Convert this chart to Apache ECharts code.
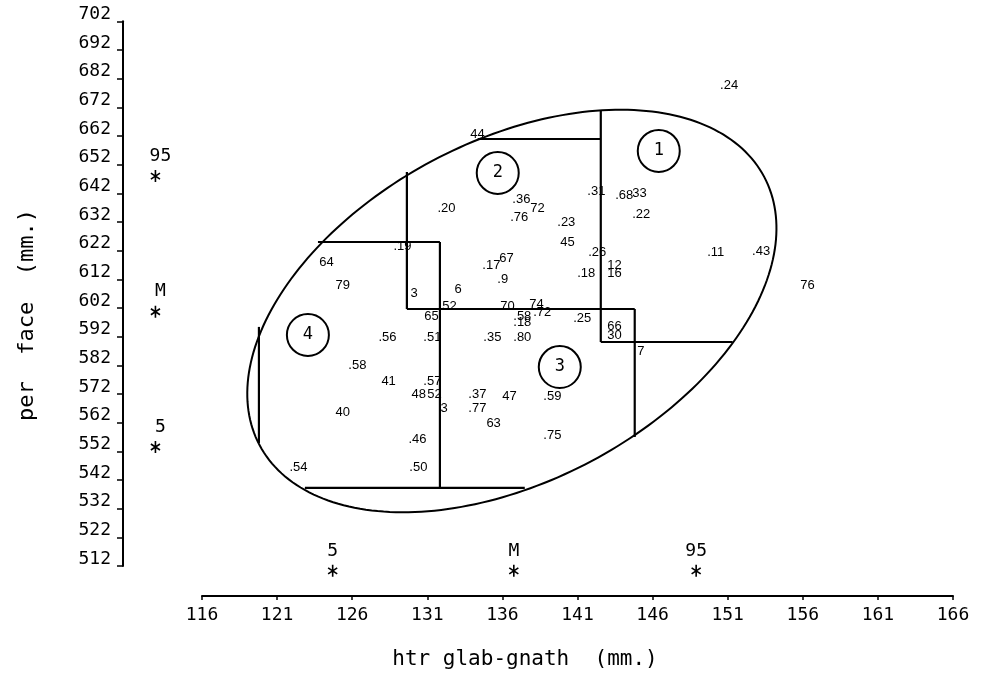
<!DOCTYPE html>
<html>
<head>
<meta charset="utf-8">
<script src="https://cdn.jsdelivr.net/npm/echarts@6/dist/echarts.min.js"></script>
<style>html,body{margin:0;padding:0;background:#fff}#c{width:981px;height:682px}</style>
</head>
<body>
<div id="c"></div>
<script>
// Subject points: label text, htr glab-gnath (x), per face (y)
const subjectLabels = ["44",".20",".36","72",".76",".23","45",".31",".26",".18","12","16",".17","67",".9","6","3",".19","52","65",".51",".56","64","79",".58","41",".57","48","52","3","40",".46",".54",".50","70","74",".72",".58",".18",".35",".80",".25","66","30","7",".37","47",".59",".77","63",".75",".24",".68","33",".22",".11",".43","76"];
const glabGnath = [133.83,131.64,136.63,137.82,136.49,139.62,139.82,141.62,141.68,140.95,142.95,142.95,134.63,135.76,135.63,132.77,129.84,128.71,131.97,130.77,130.70,127.71,123.78,124.85,125.71,127.91,130.70,129.91,130.97,131.84,124.85,129.71,121.79,129.77,135.83,137.76,138.02,136.69,136.69,134.70,136.69,140.68,142.95,142.95,144.94,133.70,135.96,138.69,133.70,134.90,138.69,150.46,143.48,144.61,144.61,149.60,152.59,155.79];
const perFace = [662.7,636.9,640.0,636.9,633.7,632.0,625.0,642.8,621.5,614.2,617.0,614.2,617.0,619.4,612.1,608.6,607.2,623.3,602.4,598.9,591.9,591.9,618.0,610.0,581.8,576.5,576.5,572.0,572.0,567.1,565.7,556.3,546.5,546.5,602.7,603.1,600.3,599.2,596.8,591.9,591.9,598.2,595.4,592.6,587.0,571.7,571.0,571.0,566.8,561.9,557.7,679.8,641.1,642.1,634.8,621.5,621.9,609.7];

// Circled region numbers
const regionLabels = ["1","2","3","4"];
const regionX = [146.41,135.69,139.82,123.05];
const regionY = [656.8,649.1,581.4,592.6];

// Percentile marks (5th, mean, 95th)
const xMarkLabels = ["5","M","95"];
const xMarkValues = [124.7,136.76,148.9];
const xMarkLevel = 510.3;
const yMarkLabels = ["95","M","5"];
const yMarkValues = [648.0,600.7,553.5];
const yMarkLevel = 112.9;

// Ellipse: centre and two conjugate semi-diameter end points (data units)
const ellipseCenter = [136.63,600.95];
const ellipseEnd1 = [153.43,647.73];
const ellipseEnd2 = [141.93,548.6];

// Region boundary segments [x1,y1,x2,y2]
const boundarySegments = [
  [134.36,660.95,142.55,660.95],
  [142.55,671.06,142.55,590.14],
  [142.55,590.14,151.33,590.14],
  [129.64,649.44,129.64,601.65],
  [123.72,625.02,131.84,625.02],
  [131.84,625.02,131.84,539.22],
  [129.64,601.65,144.81,601.65],
  [144.81,601.65,144.81,557.0],
  [119.79,595.4,119.79,554.9],
  [122.85,539.22,137.49,539.22]
];

const MONO = "DejaVu Sans Mono";
const chart = echarts.init(document.getElementById('c'), null, {renderer:'canvas'});
const asterisk = 'path://M4.2,0H5.8V12H4.2Z M0.944,2.334L9.944,8.334L9.056,9.666L0.056,3.666Z M0.056,8.334L9.056,2.334L9.944,3.666L0.944,9.666Z';

chart.setOption({
  animation:false,
  backgroundColor:'#fff',
  grid:{left:202,right:28,top:21.3,bottom:116},
  xAxis:{type:'value',min:116,max:166,interval:5,offset:30,
    axisLine:{show:true,onZero:false,lineStyle:{color:'#000',width:2}},
    axisTick:{show:true,length:4,lineStyle:{color:'#000',width:1.5}},
    axisLabel:{margin:10,color:'#000',fontSize:18,fontFamily:MONO},
    splitLine:{show:false}},
  yAxis:{type:'value',min:512,max:702,interval:10,offset:79,
    axisLine:{show:true,onZero:false,lineStyle:{color:'#000',width:2}},
    axisTick:{show:true,length:6,lineStyle:{color:'#000',width:1.5}},
    axisLabel:{margin:12,color:'#000',fontSize:18,fontFamily:MONO,verticalAlign:'bottom',lineHeight:14},
    splitLine:{show:false}},
  graphic:[
    {type:'text',x:27,y:315,rotation:Math.PI/2,style:{text:'per  face  (mm.)',fontSize:22,fontFamily:MONO,fill:'#000',align:'center',verticalAlign:'middle'}},
    {type:'text',x:525,y:660,style:{text:'htr glab-gnath  (mm.)',fontSize:21,fontFamily:MONO,fill:'#000',align:'center',verticalAlign:'middle'}}
  ],
  series:[
    {type:'custom',coordinateSystem:'cartesian2d',silent:true,clip:false,
      data:[[ellipseCenter[0],ellipseCenter[1],ellipseEnd1[0],ellipseEnd1[1],ellipseEnd2[0],ellipseEnd2[1]]],
      renderItem:function(params,api){
        const c=api.coord([api.value(0),api.value(1)]);
        const a=api.coord([api.value(2),api.value(3)]);
        const b=api.coord([api.value(4),api.value(5)]);
        const u=[a[0]-c[0],a[1]-c[1]], v=[b[0]-c[0],b[1]-c[1]];
        const pts=[];
        for(let i=0;i<240;i++){const t=i/240*Math.PI*2;pts.push([c[0]+u[0]*Math.cos(t)+v[0]*Math.sin(t),c[1]+u[1]*Math.cos(t)+v[1]*Math.sin(t)]);}
        return {type:'polygon',shape:{points:pts},style:{fill:'none',stroke:'#000',lineWidth:2}};
      }},
    {type:'custom',coordinateSystem:'cartesian2d',silent:true,clip:false,
      data:boundarySegments,
      renderItem:function(params,api){
        const p1=api.coord([api.value(0),api.value(1)]);
        const p2=api.coord([api.value(2),api.value(3)]);
        return {type:'line',shape:{x1:p1[0],y1:p1[1],x2:p2[0],y2:p2[1]},style:{stroke:'#000',lineWidth:2.2}};
      }},
    {type:'scatter',silent:true,clip:false,symbol:'circle',symbolSize:1,
      itemStyle:{color:'rgba(0,0,0,0)',opacity:1},
      data:subjectLabels.map((t,i)=>({value:[glabGnath[i],perFace[i]],name:t})),
      label:{show:true,position:'right',distance:0,formatter:p=>p.name,color:'#000',fontSize:13,fontFamily:'Liberation Sans'}},
    {type:'scatter',silent:true,clip:false,symbol:'circle',symbolSize:42,
      itemStyle:{color:'rgba(0,0,0,0)',borderColor:'#000',borderWidth:2,opacity:1},
      data:regionLabels.map((t,i)=>({value:[regionX[i],regionY[i]],name:t})),
      label:{show:true,position:'inside',formatter:p=>p.name,color:'#000',fontSize:17,fontFamily:MONO}},
    {type:'scatter',silent:true,clip:false,symbol:asterisk,symbolSize:[10,12],
      itemStyle:{color:'#000',opacity:1},
      data:xMarkLabels.map((t,i)=>({value:[xMarkValues[i],xMarkLevel],name:t})),
      label:{show:true,position:'top',distance:5,formatter:p=>p.name,color:'#000',fontSize:18,fontFamily:MONO}},
    {type:'scatter',silent:true,clip:false,symbol:asterisk,symbolSize:[10,12],
      itemStyle:{color:'#000',opacity:1},
      data:yMarkLabels.map((t,i)=>({value:[yMarkLevel,yMarkValues[i]],name:t})),
      label:{show:true,position:'top',distance:5,offset:[5,0],formatter:p=>p.name,color:'#000',fontSize:18,fontFamily:MONO}}
  ]
});
</script>
</body>
</html>
